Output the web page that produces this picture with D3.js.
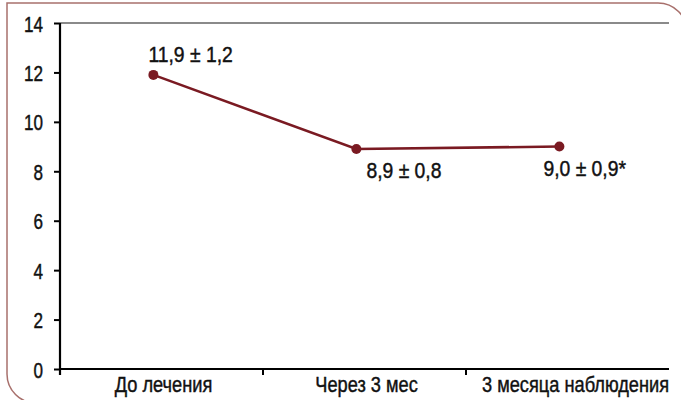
<!DOCTYPE html>
<html>
<head>
<meta charset="utf-8">
<script src="https://cdn.jsdelivr.net/npm/d3@7"></script>
<style>
  html, body { margin: 0; padding: 0; background: #fff; }
  svg { display: block; }
  text { font-family: "Liberation Sans", Arial, sans-serif; fill: #111; stroke: #111; stroke-width: 0.45px; }
</style>
</head>
<body>
<svg id="chart" width="681" height="400"></svg>
<script>
// Data
const categories = ["До лечения", "Через 3 мес", "3 месяца наблюдения"];
const values = [11.9, 8.9, 9.0];
const labels = ["11,9 \u00b1 1,2", "8,9 \u00b1 0,8", "9,0 \u00b1 0,9*"];
const yTicks = [0, 2, 4, 6, 8, 10, 12, 14];

const W = 681, H = 400;
const margin = { left: 60, right: 12, top: 23, bottom: 31 };
const fontSize = 22.5;
const svg = d3.select("#chart");

// Narrow the glyphs horizontally around the text anchor to get a condensed face
function condense(sel, k) {
  sel.each(function () {
    const t = d3.select(this);
    const tx = +t.attr("x") || 0, ty = +t.attr("y") || 0;
    t.attr("x", 0).attr("y", 0)
      .attr("transform", `translate(${tx},${ty}) scale(${k},1)`);
  });
}

// Panel frame: square top-left corner, rounded top-right and bottom-left
const fx0 = 7, fy0 = 3, fx1 = 687, fy1 = 403, r = 29;
const frame = d3.path();
frame.moveTo(fx0, fy0);
frame.lineTo(fx1 - r, fy0);
frame.arcTo(fx1, fy0, fx1, fy0 + r, r);
frame.lineTo(fx1, fy1);
frame.lineTo(fx0 + r, fy1);
frame.arcTo(fx0, fy1, fx0, fy1 - r, r);
frame.closePath();
svg.append("path").attr("d", frame.toString())
  .attr("fill", "none").attr("stroke", "#a8706c").attr("stroke-width", 1.5);

const x = d3.scaleBand().domain(categories).range([margin.left, W - margin.right]).padding(0);
const y = d3.scaleLinear().domain([0, 14]).range([H - margin.bottom, margin.top]);

// Top border line of plot area
svg.append("line")
  .attr("x1", x.range()[0]).attr("x2", x.range()[1])
  .attr("y1", y(14)).attr("y2", y(14))
  .attr("stroke", "#8a8a8a").attr("stroke-width", 2.2);

// Y axis
const yAxis = svg.append("g")
  .attr("transform", `translate(${margin.left},0)`)
  .call(d3.axisLeft(y).tickValues(yTicks).tickSize(6).tickPadding(11).tickFormat(d3.format("d")));
yAxis.select(".domain").attr("stroke", "#000").attr("stroke-width", 2.2)
  .attr("d", `M0,${y(14)}V${y(0) + 6}`);
yAxis.selectAll(".tick line").attr("stroke", "#000").attr("stroke-width", 2);
yAxis.selectAll(".tick text").attr("font-size", fontSize).attr("dy", "0.36em")
  .style("font-family", "\"Liberation Sans\", Arial, sans-serif").style("fill", "#111");
condense(yAxis.selectAll(".tick text"), 0.76);

// X axis with ticks on category boundaries
const bounds = categories.slice(1).map(c => x(c));
const xAxis = svg.append("g").attr("transform", `translate(0,${y(0)})`);
xAxis.append("line")
  .attr("x1", x.range()[0]).attr("x2", x.range()[1])
  .attr("stroke", "#000").attr("stroke-width", 2.2);
xAxis.selectAll(".btick").data(bounds).join("line")
  .attr("x1", d => d).attr("x2", d => d).attr("y1", 0).attr("y2", 6)
  .attr("stroke", "#000").attr("stroke-width", 2);
const cl = xAxis.selectAll(".clabel").data(categories).join("text")
  .attr("x", (d, i) => x(d) + x.bandwidth() / 2 + (i === 2 ? 8 : 2))
  .attr("y", 23)
  .attr("text-anchor", "middle")
  .attr("font-size", fontSize)
  .text(d => d);
condense(cl, 0.81);

// Series line and markers
const px = i => x(categories[i]) + x.bandwidth() * 0.46;
const pts = values.map((v, i) => [px(i), y(v)]);
const lineColor = "#7a1a22";
svg.append("path")
  .attr("d", d3.line()(pts))
  .attr("fill", "none").attr("stroke", lineColor).attr("stroke-width", 2.6);
svg.selectAll(".pt").data(pts).join("circle")
  .attr("cx", d => d[0]).attr("cy", d => d[1]).attr("r", 5)
  .attr("fill", lineColor);

// Value labels
const labelOffsets = [[-5, -13], [10, 29], [-16, 29]];
const vl = svg.selectAll(".vlabel").data(labels).join("text")
  .attr("x", (d, i) => pts[i][0] + labelOffsets[i][0])
  .attr("y", (d, i) => pts[i][1] + labelOffsets[i][1])
  .attr("font-size", fontSize)
  .text(d => d);
condense(vl, 0.86);
</script>
</body>
</html>
